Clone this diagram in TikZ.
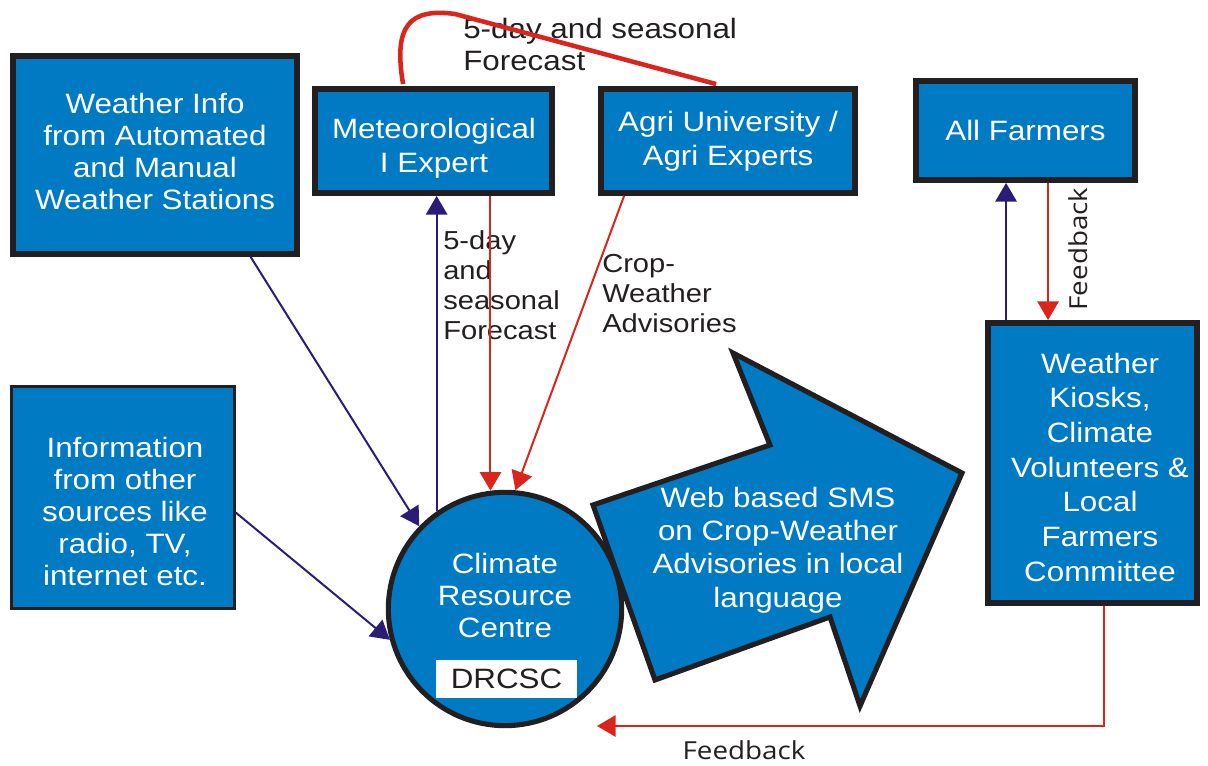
\documentclass[tikz,border=0pt]{standalone}
\usepackage{fontspec}
\setmainfont{Liberation Sans}[FakeStretch=1.12]
\newfontfamily\fbfont{Open Sans}[FakeStretch=1.12]
\usetikzlibrary{arrows.meta,calc}
\definecolor{boxblue}{RGB}{0,122,194}
\definecolor{navy}{RGB}{43,28,120}
\definecolor{arred}{RGB}{218,37,29}
\definecolor{ink}{RGB}{35,31,32}
\tikzset{
  bluebox/.style={draw=ink, line width=4.4pt, fill=boxblue, text=white, align=center,
    font=\fontsize{21}{24}\selectfont, inner sep=0pt},
  whitetext/.style={text=white, align=center, inner sep=0pt, font=\fontsize{21}{24}\selectfont},
  inklabel/.style={text=ink, align=left, inner sep=0pt, anchor=north west},
  navyarrow/.style={draw=navy, line width=1.5pt, -{Triangle[length=14pt,width=16pt]}},
  redarrow/.style={draw=arred, line width=1.5pt, -{Triangle[length=14pt,width=16pt]}},
}
\begin{document}
\begin{tikzpicture}[x=0.75pt,y=-0.75pt]
\useasboundingbox (0,0) rectangle (1208,766);

% boxes
\node[bluebox, minimum width=213pt, minimum height=148.5pt] (wx) at (155,155) {};
\node[whitetext] (wxT) at (155,151) {Weather Info\\from Automated\\and Manual\\Weather Stations};
\node[bluebox, minimum width=177.75pt, minimum height=78pt] (met) at (433.5,141) {};
\node[whitetext, font=\fontsize{21}{25.5}\selectfont] (metT) at (434,148) {Meteorological\\I Expert};
\node[bluebox, minimum width=190.5pt, minimum height=78pt, font=\fontsize{21}{25.5}\selectfont] (agri) at (728,141)
  {Agri University /\\Agri Experts};
\node[bluebox, minimum width=164.25pt, minimum height=74.25pt] (farm) at (1025.5,130.5)
  {All Farmers};
\node[bluebox, line width=1.8pt, minimum width=167.25pt, minimum height=166.5pt] (info) at (123,497.5) {};
\node[whitetext] (infoT) at (125,511) {Information\\from other\\sources like\\radio, TV,\\internet etc.};
\node[bluebox, minimum width=156.75pt, minimum height=210pt] (kiosk) at (1092.5,463) {};
\node[whitetext, font=\fontsize{21}{26}\selectfont] (kioskT) at (1100,467)
  {Weather\\Kiosks,\\Climate\\Volunteers \&\\Local\\Farmers\\Committee};

% circle
\node[circle, draw=ink, line width=3.8pt, fill=boxblue, minimum size=175pt, inner sep=0pt] (crc) at (505,609) {};
\node[whitetext] (crcT) at (505,595) {Climate\\Resource\\Centre};
\node[fill=white, text=ink, minimum width=105.75pt, minimum height=28.5pt, inner sep=0pt,
  font=\fontsize{21}{24}\selectfont] (drc) at (506.5,679) {DRCSC};

% big arrow
\draw[draw=ink, line width=3.8pt, fill=boxblue, line join=miter]
  (593,505) -- (770,445) -- (733,353) -- (962,473) -- (860,706) -- (830,617) -- (655,680) -- cycle;
\node[whitetext, font=\fontsize{21}{25}\selectfont] (smsT) at (778,550)
  {Web based SMS\\on Crop-Weather\\Advisories in local\\language};

% labels
\node[inklabel, font=\fontsize{21}{24}\selectfont] (lbTop) at (463,18) {5-day and seasonal\\Forecast};
\node[inklabel, font=\fontsize{19.5}{22.5}\selectfont] (lbMid) at (443,230) {5-day\\and\\seasonal\\Forecast};
\node[inklabel, font=\fontsize{19.5}{22.5}\selectfont] (lbCrop) at (602,254) {Crop-\\Weather\\Advisories};
\node[text=ink, rotate=90, inner sep=0pt, font=\fbfont\fontsize{18.6}{22}\selectfont] (fbV) at (1078,249) {Feedback};
\node[text=ink, inner sep=0pt, font=\fbfont\fontsize{18.6}{22}\selectfont] (fbH) at (744,750) {Feedback};

% top red arc
\draw[arred, line width=3.4pt]
  ($(met.north west)+(91,-2)$) .. controls (393,25) and (410,8) .. (455,14)
  -- ($(agri.north west)+(118,-2)$);

% connectors
\draw[navyarrow] ($(wx.south west)!0.83!(wx.south east)$) -- (crc.136);
\draw[navyarrow] ($(info.east)+(0,15)$) -- (crc.195);
\draw[navyarrow] (crc.125) -- (crc.125 |- met.south);
\draw[redarrow] (crc.97 |- met.south) -- (crc.97);
\draw[redarrow] ($(agri.south west)+(26,0)$) -- (crc.85);

\coordinate (nv) at ($(kiosk.north west)+(21,0)$);
\draw[navyarrow] (nv) -- (nv |- farm.south);
\coordinate (rv) at ($(farm.south west)+(135,0)$);
\draw[redarrow] (rv) -- (rv |- kiosk.north);

\coordinate (fbend) at (597,726);
\draw[redarrow] ($(kiosk.south west)+(119,0)$) |- (fbend);
\end{tikzpicture}
\end{document}
